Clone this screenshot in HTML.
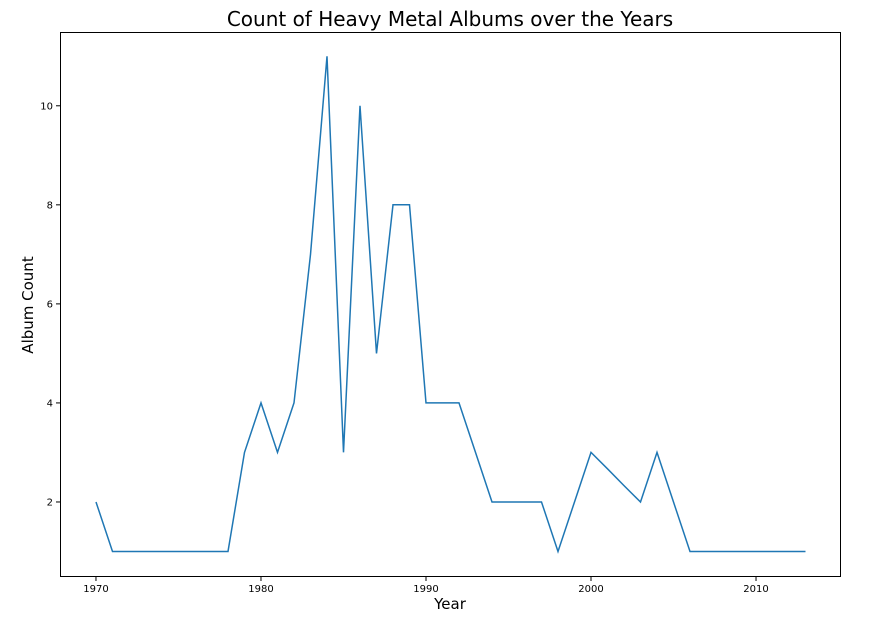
<!DOCTYPE html>
<html><head><meta charset="utf-8"><style>
body{margin:0;background:#fff;}
svg text{font-family:"DejaVu Sans","Liberation Sans",sans-serif;}
</style></head><body>
<svg id="chart" width="882" height="622">
<text x="450" y="26" text-anchor="middle" font-size="20" fill="#000">Count of Heavy Metal Albums over the Years</text>
<text x="450" y="609" text-anchor="middle" font-size="15" fill="#000">Year</text>
<text transform="translate(33,305) rotate(-90)" text-anchor="middle" font-size="15" fill="#000">Album Count</text>
<g id="ticks"></g>
<path id="line" fill="none" stroke="#1f77b4" stroke-width="1.5"/>
<rect x="60.5" y="32.5" width="780" height="544" fill="none" stroke="#000" stroke-width="1"/>
</svg>
<script>
const years=[1970,1971,1972,1973,1974,1975,1976,1977,1978,1979,1980,1981,1982,1983,1984,1985,1986,1987,1988,1989,1990,1991,1992,1993,1994,1995,1996,1997,1998,1999,2000,2001,2002,2003,2004,2005,2006,2007,2008,2009,2010,2011,2012,2013];
const counts=[2,1,1,1,1,1,1,1,1,3,4,3,4,7,11,3,10,5,8,8,4,4,4,3,2,2,2,2,1,2,3,2.67,2.33,2,3,2,1,1,1,1,1,1,1,1];
const xTicks=[1970,1980,1990,2000,2010];
const yTicks=[2,4,6,8,10];
const X0=1967.82,X1=2015.15,Y0=0.485,Y1=11.49;
const L=60,R=841,T=32,B=577;
const sx=v=>L+(v-X0)/(X1-X0)*(R-L);
const sy=v=>B-(v-Y0)/(Y1-Y0)*(B-T);
const ns="http://www.w3.org/2000/svg";
const g=document.getElementById('ticks');
xTicks.forEach(t=>{
 const l=document.createElementNS(ns,'line');
 l.setAttribute('x1',sx(t));l.setAttribute('x2',sx(t));l.setAttribute('y1',B);l.setAttribute('y2',B+4);l.setAttribute('stroke','#000');
 
 
 g.appendChild(l);
 const tx=document.createElementNS(ns,'text');
 tx.setAttribute('x',sx(t));tx.setAttribute('y',B+15);tx.setAttribute('text-anchor','middle');tx.setAttribute('font-size','10');tx.textContent=t;
 
 
 g.appendChild(tx);
});
yTicks.forEach(t=>{
 const l=document.createElementNS(ns,'line');
 l.setAttribute('x1',L-4);l.setAttribute('x2',L);l.setAttribute('y1',sy(t));l.setAttribute('y2',sy(t));l.setAttribute('stroke','#000');
 
 
 g.appendChild(l);
 const tx=document.createElementNS(ns,'text');
 tx.setAttribute('x',L-7);tx.setAttribute('y',sy(t)+3.5);tx.setAttribute('text-anchor','end');tx.setAttribute('font-size','10');tx.textContent=t;
 
 
 g.appendChild(tx);
});
document.getElementById('line').setAttribute('d',years.map((y,i)=>(i?'L':'M')+sx(y).toFixed(1)+','+sy(counts[i]).toFixed(1)).join(''));
</script>
</body></html>
